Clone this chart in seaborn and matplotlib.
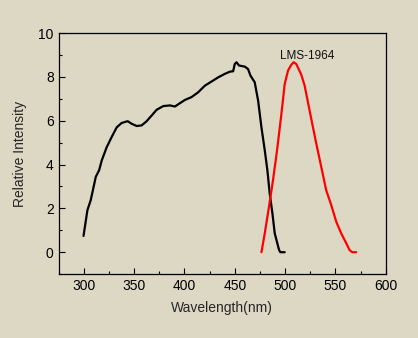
import numpy as np
import pandas as pd
import matplotlib
matplotlib.use("Agg")
import matplotlib.pyplot as plt
from matplotlib.ticker import MultipleLocator
import seaborn as sns

# Source spectrum (black)
src_wl = [299.8, 303.7, 307, 312, 315.3, 318, 322.9, 327.8, 332.8, 337.7, 343.7,
          347.7, 352.6, 357.6, 362.5, 367.5, 372.4, 379, 385.6, 390.6, 395.5,
          400.5, 407.1, 413.7, 420.3, 426.9, 433.5, 440.1, 445.1, 448.4, 450,
          451.7, 454.3, 460, 463.2, 465.6, 469.8, 473.2, 476.5, 479.8, 482.4,
          484.7, 487.4, 489.7, 494, 495.3, 499.6]
src_val = [0.74, 1.92, 2.38, 3.44, 3.74, 4.2, 4.8, 5.26, 5.7, 5.9, 5.98,
           5.86, 5.76, 5.79, 5.98, 6.24, 6.5, 6.67, 6.7, 6.65, 6.8,
           6.95, 7.08, 7.3, 7.6, 7.79, 7.98, 8.14, 8.24, 8.26, 8.59,
           8.67, 8.52, 8.47, 8.36, 8.06, 7.76, 6.92, 5.7, 4.65, 3.74,
           2.68, 1.77, 0.86, 0.1, 0.0, 0.0]

# LMS-1964 curve (red)
lms_wl = [476.5, 479.8, 484, 488, 492, 496.3, 499.6, 502.9, 506.2, 508.5, 511.1,
          516.1, 519.4, 524.3, 530.3, 535.9, 540.8, 545.8, 550.8, 555.7, 560.7,
          564, 566.6, 570.6]
lms_val = [0.0, 0.86, 2.08, 3.29, 4.65, 6.3, 7.68, 8.29, 8.56, 8.67, 8.59,
           8.1, 7.6, 6.47, 5.1, 3.89, 2.83, 2.15, 1.39, 0.86, 0.41,
           0.1, 0.0, 0.0]

x_ticks = [300, 350, 400, 450, 500, 550, 600]
y_ticks = [0, 2, 4, 6, 8, 10]

bg = "#DCD8C4"
sns.set_style("ticks")
plt.rcParams['font.family'] = ['Liberation Sans', 'DejaVu Sans']

fig = plt.figure(figsize=(4.18, 3.38), dpi=100, facecolor=bg)
ax = fig.add_axes([0.14, 0.189, 0.783, 0.713])
ax.set_facecolor(bg)

df_src = pd.DataFrame({"wl": src_wl, "val": src_val})
df_lms = pd.DataFrame({"wl": lms_wl, "val": lms_val})
sns.lineplot(data=df_src, x="wl", y="val", ax=ax, color="black", lw=1.6, sort=False)
sns.lineplot(data=df_lms, x="wl", y="val", ax=ax, color="#FF0000", lw=1.6, sort=False)

ax.text(522, 8.95, "LMS-1964", ha="center", va="center", fontsize=8.5, color="#111111")

ax.set_xlim(275, 600)
ax.set_ylim(-1, 10)
ax.set_xticks(x_ticks)
ax.set_yticks(y_ticks)
ax.xaxis.set_minor_locator(MultipleLocator(25))
ax.yaxis.set_minor_locator(MultipleLocator(1))
ax.tick_params(which="both", direction="in", top=False, right=False,
               labelsize=10, colors="black")
ax.tick_params(which="major", length=4, width=0.8)
ax.tick_params(which="minor", length=2.5, width=0.8)
for s in ax.spines.values():
    s.set_visible(True)
    s.set_color("black")
    s.set_linewidth(0.9)

ax.set_xlabel("Wavelength(nm)", fontsize=10, labelpad=6)
ax.set_ylabel("Relative Intensity", fontsize=10, labelpad=8)

fig.savefig("out.png", dpi=100, facecolor=bg)
